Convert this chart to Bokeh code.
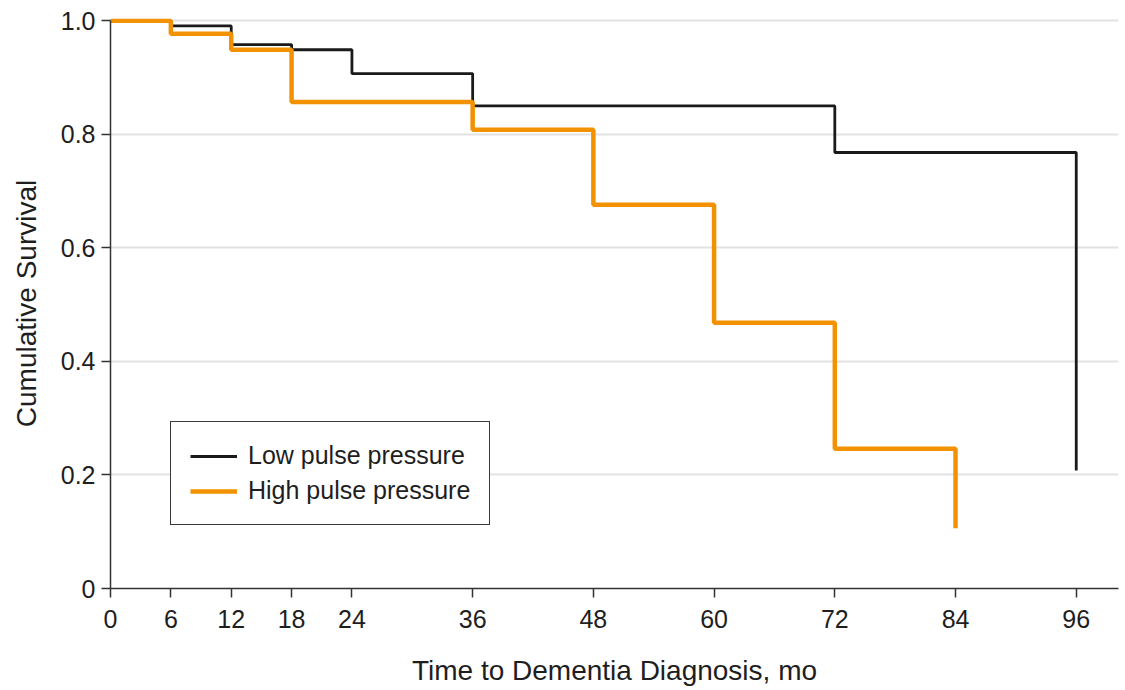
from bokeh.plotting import figure
from bokeh.models import Range1d, Legend, LegendItem, FixedTicker
from bokeh.embed import file_html
from bokeh.resources import INLINE

# Data (Kaplan-Meier step estimates)
low_t = [0, 6, 12, 18, 24, 36, 72, 96]
low_s = [1.0, 0.991, 0.958, 0.949, 0.907, 0.850, 0.768, 0.208]
high_t = [0, 6, 12, 18, 36, 48, 60, 72, 84]
high_s = [1.0, 0.977, 0.949, 0.857, 0.808, 0.676, 0.468, 0.246, 0.106]
x_ticks = [0, 6, 12, 18, 24, 36, 48, 60, 72, 84, 96]
y_ticks = [0, 0.2, 0.4, 0.6, 0.8, 1.0]
y_tick_labels = {0: "0", 0.2: "0.2", 0.4: "0.4", 0.6: "0.6", 0.8: "0.8", 1.0: "1.0"}

FONT = "Liberation Sans"
TXT = "#1e1e1e"

p = figure(width=1125, height=690, output_backend="svg", toolbar_location=None,
           x_range=Range1d(0, 100.2), y_range=Range1d(0, 1.004),
           min_border_left=110, min_border_right=7, min_border_top=18, min_border_bottom=102)
p.outline_line_color = None
p.background_fill_color = "white"
p.border_fill_color = "white"

p.xgrid.grid_line_color = None
p.ygrid.grid_line_color = "#e2e2e2"
p.ygrid.grid_line_width = 2
p.ygrid.ticker = FixedTicker(ticks=y_ticks)

for ax in (p.xaxis[0], p.yaxis[0]):
    ax.axis_line_color = "#333333"
    ax.axis_line_width = 1.5
    ax.major_tick_line_color = "#333333"
    ax.major_tick_line_width = 1.5
    ax.major_tick_out = 9
    ax.major_tick_in = 0
    ax.minor_tick_line_color = None
    ax.major_label_text_font = FONT
    ax.major_label_text_font_size = "25px"
    ax.major_label_text_color = TXT
    ax.axis_label_text_font = FONT
    ax.axis_label_text_font_size = "28px"
    ax.axis_label_text_font_style = "normal"
    ax.axis_label_text_color = TXT

p.xaxis.ticker = FixedTicker(ticks=x_ticks)
p.yaxis.ticker = FixedTicker(ticks=y_ticks)
p.yaxis.major_label_overrides = y_tick_labels
p.yaxis.bounds = (0, 1.0)
p.xaxis.axis_label = "Time to Dementia Diagnosis, mo"
p.yaxis.axis_label = "Cumulative Survival"
p.xaxis.major_label_standoff = 12
p.xaxis.axis_label_standoff = 24
p.yaxis.major_label_standoff = 6
p.yaxis.axis_label_standoff = 16

r_low = p.step(low_t, low_s, mode="after", line_color="#1a1a1a", line_width=2.8)
r_high = p.step(high_t, high_s, mode="after", line_color="#F39200", line_width=4.5)

legend = Legend(items=[LegendItem(label="Low pulse pressure", renderers=[r_low]),
                       LegendItem(label="High pulse pressure", renderers=[r_high])],
                location=(60, 63))
legend.label_text_font = FONT
legend.label_text_font_size = "25px"
legend.label_text_color = TXT
legend.border_line_color = "#3a3a3a"
legend.border_line_alpha = 1.0
legend.border_line_width = 1.5
legend.padding = 19
legend.spacing = 6
legend.glyph_width = 47
legend.glyph_height = 28
legend.label_height = 28
legend.label_standoff = 11
legend.margin = 0
legend.background_fill_alpha = 1
p.add_layout(legend, "center")

open("out.html", "w").write(file_html(p, INLINE))
